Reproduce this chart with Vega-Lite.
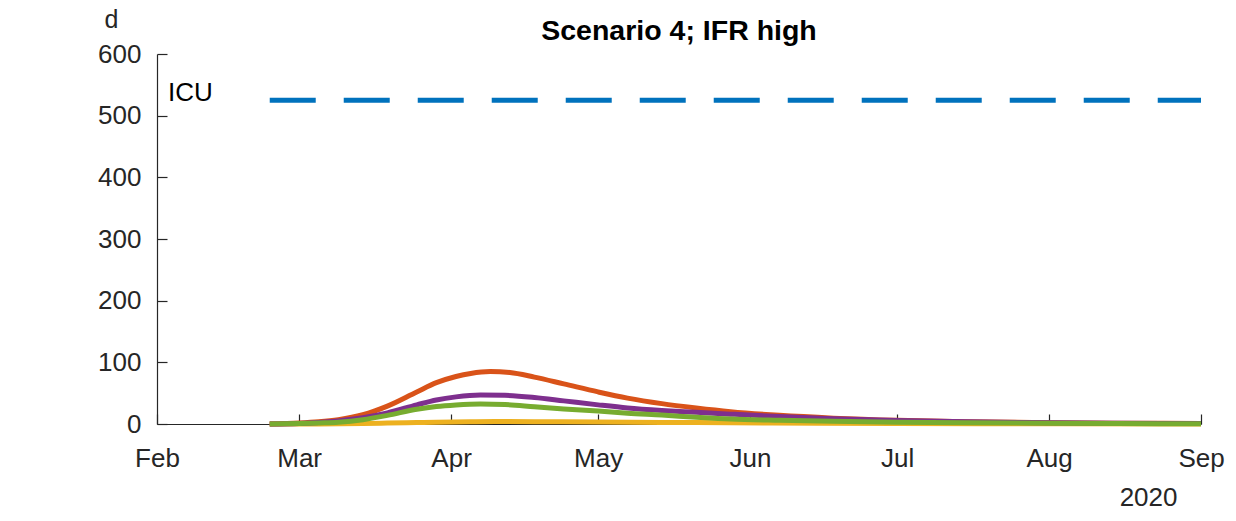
{
  "$schema": "https://vega.github.io/schema/vega-lite/v6.json",
  "autosize": {"type": "none"},
  "padding": {"left": 157, "top": 54, "right": 35, "bottom": 97},
  "width": 1044,
  "height": 370,
  "background": "white",
  "config": {
    "view": {"stroke": null},
    "font": "Liberation Sans",
    "axis": {
      "grid": false,
      "domainColor": "#262626",
      "domainWidth": 1.2,
      "tickColor": "#262626",
      "tickWidth": 1.2,
      "tickSize": -10,
      "labelFont": "Liberation Sans",
      "labelFontSize": 26,
      "labelColor": "#262626",
      "titleFont": "Liberation Sans",
      "titleColor": "#262626",
      "titleFontWeight": "normal"
    }
  },
  "title": {
    "text": "Scenario 4; IFR high",
    "font": "Liberation Sans",
    "fontSize": 28.5,
    "fontWeight": "bold",
    "color": "#000000",
    "anchor": "middle",
    "frame": "group",
    "baseline": "alphabetic",
    "offset": -61
  },
  "datasets": {
    "icu": [
      {"date": "2020-02-24", "value": 525},
      {"date": "2020-09-01", "value": 525}
    ],
    "icuLabel": [
      {"date": "2020-02-01", "value": 525, "label": "ICU"}
    ],
    "orange": [
      {"date": "2020-02-24", "value": 0},
      {"date": "2020-03-01", "value": 1.5},
      {"date": "2020-03-05", "value": 3.5},
      {"date": "2020-03-09", "value": 7},
      {"date": "2020-03-14", "value": 15},
      {"date": "2020-03-19", "value": 29},
      {"date": "2020-03-25", "value": 52},
      {"date": "2020-03-29", "value": 67},
      {"date": "2020-04-02", "value": 77},
      {"date": "2020-04-05", "value": 82},
      {"date": "2020-04-09", "value": 85},
      {"date": "2020-04-13", "value": 83.5},
      {"date": "2020-04-18", "value": 76},
      {"date": "2020-04-24", "value": 65},
      {"date": "2020-05-01", "value": 52},
      {"date": "2020-05-07", "value": 42},
      {"date": "2020-05-14", "value": 33},
      {"date": "2020-05-21", "value": 26},
      {"date": "2020-05-28", "value": 20},
      {"date": "2020-06-07", "value": 14},
      {"date": "2020-06-18", "value": 9.5},
      {"date": "2020-07-01", "value": 6},
      {"date": "2020-07-15", "value": 3.8},
      {"date": "2020-08-01", "value": 2.2},
      {"date": "2020-08-15", "value": 1.4},
      {"date": "2020-09-01", "value": 0.8}
    ],
    "yellow": [
      {"date": "2020-02-24", "value": 0},
      {"date": "2020-03-05", "value": 0.2},
      {"date": "2020-03-14", "value": 0.8},
      {"date": "2020-03-19", "value": 1.5},
      {"date": "2020-03-25", "value": 2.4},
      {"date": "2020-03-29", "value": 3},
      {"date": "2020-04-05", "value": 3.7},
      {"date": "2020-04-10", "value": 4},
      {"date": "2020-04-18", "value": 3.8},
      {"date": "2020-05-01", "value": 3.2},
      {"date": "2020-05-14", "value": 2.6},
      {"date": "2020-05-28", "value": 2},
      {"date": "2020-06-15", "value": 1.3},
      {"date": "2020-07-01", "value": 0.9},
      {"date": "2020-08-01", "value": 0.4},
      {"date": "2020-09-01", "value": 0.2}
    ],
    "purple": [
      {"date": "2020-02-24", "value": 0},
      {"date": "2020-03-01", "value": 1},
      {"date": "2020-03-05", "value": 2.5},
      {"date": "2020-03-09", "value": 5},
      {"date": "2020-03-14", "value": 10},
      {"date": "2020-03-19", "value": 18},
      {"date": "2020-03-25", "value": 31},
      {"date": "2020-03-29", "value": 39},
      {"date": "2020-04-02", "value": 44},
      {"date": "2020-04-07", "value": 47},
      {"date": "2020-04-12", "value": 46.5},
      {"date": "2020-04-18", "value": 43},
      {"date": "2020-04-24", "value": 37.5},
      {"date": "2020-05-01", "value": 31},
      {"date": "2020-05-07", "value": 26},
      {"date": "2020-05-14", "value": 22},
      {"date": "2020-05-21", "value": 19},
      {"date": "2020-05-28", "value": 16},
      {"date": "2020-06-07", "value": 12},
      {"date": "2020-06-18", "value": 8.5},
      {"date": "2020-07-01", "value": 5.5},
      {"date": "2020-07-15", "value": 3.5},
      {"date": "2020-08-01", "value": 2},
      {"date": "2020-08-15", "value": 1.3},
      {"date": "2020-09-01", "value": 0.7}
    ],
    "green": [
      {"date": "2020-02-24", "value": 0},
      {"date": "2020-03-01", "value": 0.8},
      {"date": "2020-03-05", "value": 1.8},
      {"date": "2020-03-09", "value": 3},
      {"date": "2020-03-14", "value": 7},
      {"date": "2020-03-19", "value": 14},
      {"date": "2020-03-25", "value": 24},
      {"date": "2020-03-29", "value": 28.5},
      {"date": "2020-04-02", "value": 31},
      {"date": "2020-04-07", "value": 32.5},
      {"date": "2020-04-12", "value": 31.5},
      {"date": "2020-04-18", "value": 28},
      {"date": "2020-04-24", "value": 24.5},
      {"date": "2020-05-01", "value": 21},
      {"date": "2020-05-07", "value": 17.5},
      {"date": "2020-05-14", "value": 14.5},
      {"date": "2020-05-21", "value": 11},
      {"date": "2020-05-28", "value": 8},
      {"date": "2020-06-07", "value": 6},
      {"date": "2020-06-18", "value": 4.5},
      {"date": "2020-07-01", "value": 3},
      {"date": "2020-07-15", "value": 2},
      {"date": "2020-08-01", "value": 1.2},
      {"date": "2020-08-15", "value": 0.8},
      {"date": "2020-09-01", "value": 0.4}
    ]
  },
  "encoding": {
    "x": {
      "field": "date",
      "type": "temporal",
      "scale": {
        "type": "utc",
        "domain": [
          {"year": 2020, "month": 2, "date": 1, "utc": true},
          {"year": 2020, "month": 9, "date": 1, "utc": true}
        ]
      },
      "axis": {
        "values": [
          {"year": 2020, "month": 2, "date": 1, "utc": true},
          {"year": 2020, "month": 3, "date": 1, "utc": true},
          {"year": 2020, "month": 4, "date": 1, "utc": true},
          {"year": 2020, "month": 5, "date": 1, "utc": true},
          {"year": 2020, "month": 6, "date": 1, "utc": true},
          {"year": 2020, "month": 7, "date": 1, "utc": true},
          {"year": 2020, "month": 8, "date": 1, "utc": true},
          {"year": 2020, "month": 9, "date": 1, "utc": true}
        ],
        "labelExpr": "utcFormat(datum.value, '%b')",
        "labelPadding": 31,
        "labelFlush": false,
        "labelOverlap": false,
        "title": "2020",
        "titleFontSize": 26,
        "titleAnchor": null,
        "titleAlign": "right",
        "titleBaseline": "alphabetic",
        "titleX": 1020,
        "titleY": 81
      }
    },
    "y": {
      "field": "value",
      "type": "quantitative",
      "scale": {"domain": [0, 600], "nice": false, "zero": true},
      "axis": {
        "values": [0, 100, 200, 300, 400, 500, 600],
        "labelPadding": 26,
        "labelFlush": false,
        "title": "d",
        "titleFontSize": 25,
        "titleAngle": 0,
        "titleAnchor": null,
        "titleAlign": "center",
        "titleBaseline": "alphabetic",
        "titleX": -46,
        "titleY": -27
      }
    }
  },
  "layer": [
    {
      "data": {"name": "icu"},
      "mark": {"type": "line", "color": "#0072BD", "strokeWidth": 5, "strokeDash": [46, 28], "strokeCap": "butt"}
    },
    {
      "data": {"name": "icuLabel"},
      "mark": {"type": "text", "align": "left", "baseline": "alphabetic", "dx": 11, "dy": 1, "fontSize": 26, "font": "Liberation Sans", "color": "#000000"},
      "encoding": {"text": {"field": "label"}}
    },
    {
      "data": {"name": "orange"},
      "mark": {"type": "line", "color": "#D95319", "strokeWidth": 5, "interpolate": "monotone"}
    },
    {
      "data": {"name": "yellow"},
      "mark": {"type": "line", "color": "#EDB120", "strokeWidth": 5, "interpolate": "monotone"}
    },
    {
      "data": {"name": "purple"},
      "mark": {"type": "line", "color": "#7E2F8E", "strokeWidth": 5, "interpolate": "monotone"}
    },
    {
      "data": {"name": "green"},
      "mark": {"type": "line", "color": "#77AC30", "strokeWidth": 5, "interpolate": "monotone"}
    }
  ]
}
